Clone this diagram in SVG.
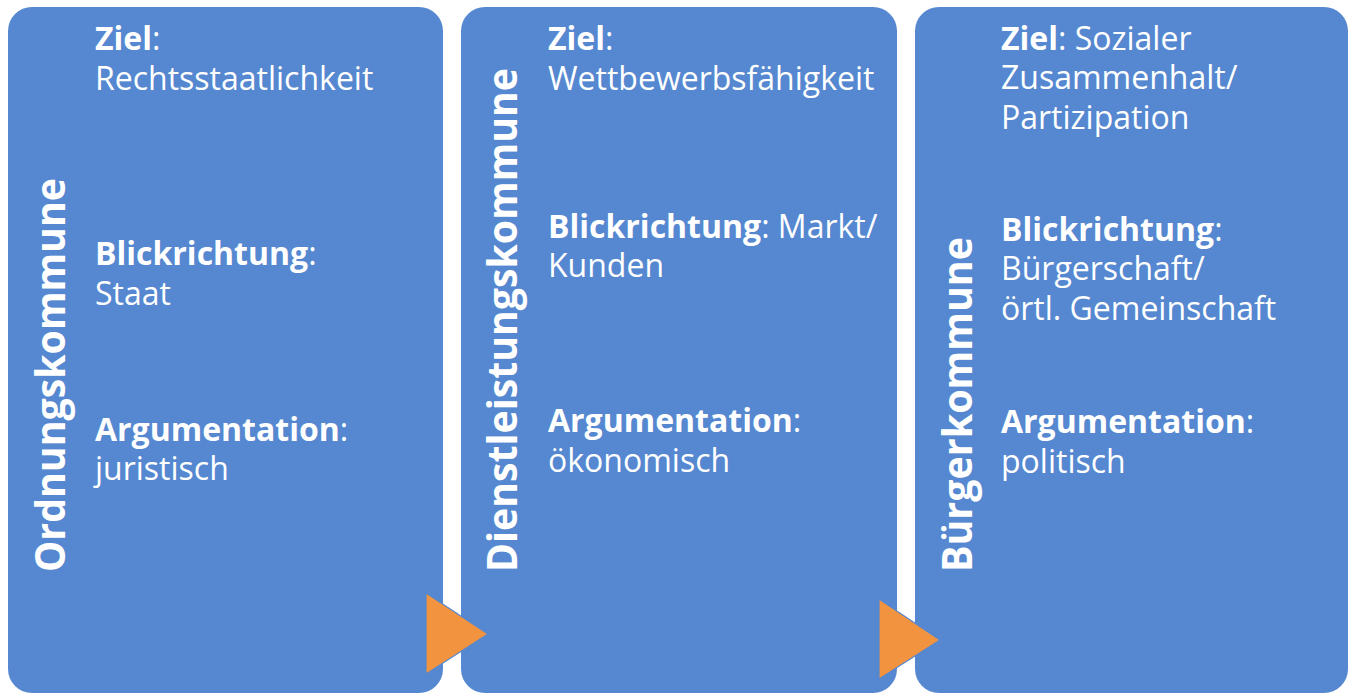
<svg xmlns="http://www.w3.org/2000/svg" width="1355" height="695" viewBox="0 0 1355 695">
<style>
.box{fill:#5588D0}
.arr{fill:#F29340;stroke:#5588D0;stroke-width:1.2;stroke-linejoin:miter}
text{font-family:"Open Sans","Noto Sans",sans-serif;fill:#FFFFFF}
.t{font-size:32px}
.b{font-weight:bold}
.v{font-size:42px;font-weight:bold}
</style>
<rect x="0" y="0" width="1355" height="695" fill="#FFFFFF"/>
<g id="node1">
<rect class="box" x="8" y="7" width="435" height="686" rx="24" ry="24"/>
<text class="v" transform="translate(65,572) rotate(-90)" textLength="394" lengthAdjust="spacingAndGlyphs">Ordnungskommune</text>
<text class="t" x="95" y="50"><tspan class="b">Ziel</tspan>:</text>
<text class="t" x="95" y="90">Rechtsstaatlichkeit</text>
<text class="t" x="95" y="265"><tspan class="b">Blickrichtung</tspan>:</text>
<text class="t" x="95" y="305">Staat</text>
<text class="t" x="95" y="441"><tspan class="b">Argumentation</tspan>:</text>
<text class="t" x="95" y="480">juristisch</text>
</g>
<g id="node2">
<rect class="box" x="461" y="7" width="436" height="686" rx="24" ry="24"/>
<text class="v" transform="translate(517,572) rotate(-90)" textLength="504" lengthAdjust="spacingAndGlyphs">Dienstleistungskommune</text>
<text class="t" x="548" y="50"><tspan class="b">Ziel</tspan>:</text>
<text class="t" x="548" y="90">Wettbewerbsfähigkeit</text>
<text class="t" x="548" y="238"><tspan class="b">Blickrichtung</tspan>: Markt/</text>
<text class="t" x="548" y="277">Kunden</text>
<text class="t" x="548" y="432"><tspan class="b">Argumentation</tspan>:</text>
<text class="t" x="548" y="472">ökonomisch</text>
</g>
<g id="node3">
<rect class="box" x="915" y="7" width="433" height="686" rx="24" ry="24"/>
<text class="v" transform="translate(972,572) rotate(-90)" textLength="335" lengthAdjust="spacingAndGlyphs">Bürgerkommune</text>
<text class="t" x="1001" y="50"><tspan class="b">Ziel</tspan>: Sozialer</text>
<text class="t" x="1001" y="89">Zusammenhalt/</text>
<text class="t" x="1001" y="129">Partizipation</text>
<text class="t" x="1001" y="241"><tspan class="b">Blickrichtung</tspan>:</text>
<text class="t" x="1001" y="280">Bürgerschaft/</text>
<text class="t" x="1001" y="320">örtl. Gemeinschaft</text>
<text class="t" x="1001" y="433"><tspan class="b">Argumentation</tspan>:</text>
<text class="t" x="1001" y="473">politisch</text>
</g>
<g id="connectors">
<polygon class="arr" points="426,593 488,634 426,674"/>
<polygon class="arr" points="879,599 940,640 879,679"/>
</g>
</svg>
